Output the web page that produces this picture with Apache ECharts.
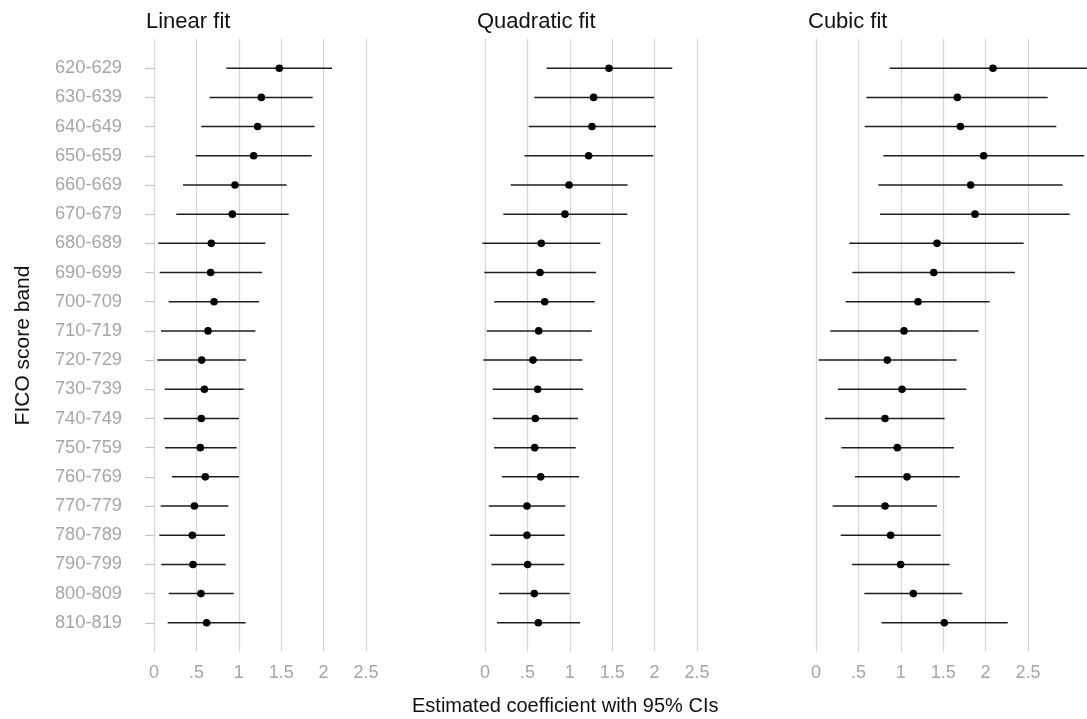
<!DOCTYPE html>
<html>
<head>
<meta charset="utf-8">
<script src="https://cdn.jsdelivr.net/npm/echarts@6/dist/echarts.min.js"></script>
<style>html,body{margin:0;padding:0;background:#fff;}#c{width:1087px;height:719px;}</style>
</head>
<body>
<div id="c"></div>
<script>
const bands = ['620-629','630-639','640-649','650-659','660-669','670-679','680-689','690-699','700-709','710-719','720-729','730-739','740-749','750-759','760-769','770-779','780-789','790-799','800-809','810-819'];
const xTickLabels = ['0','.5','1','1.5','2','2.5'];

const linLo = [0.853,0.656,0.558,0.491,0.342,0.263,0.051,0.067,0.173,0.083,0.039,0.126,0.114,0.130,0.212,0.079,0.063,0.086,0.173,0.161];
const linPt = [1.478,1.266,1.222,1.175,0.955,0.924,0.676,0.668,0.708,0.637,0.562,0.594,0.558,0.546,0.605,0.476,0.452,0.460,0.554,0.621];
const linHi = [2.099,1.871,1.895,1.859,1.564,1.588,1.313,1.274,1.238,1.195,1.085,1.057,1.002,0.975,1.002,0.877,0.837,0.845,0.940,1.081];

const quadLo = [0.727,0.581,0.515,0.464,0.303,0.216,-0.031,-0.008,0.110,0.020,-0.020,0.091,0.091,0.106,0.200,0.044,0.055,0.075,0.165,0.142];
const quadPt = [1.462,1.281,1.262,1.222,0.991,0.943,0.664,0.649,0.704,0.633,0.566,0.621,0.593,0.586,0.657,0.495,0.495,0.503,0.581,0.629];
const quadHi = [2.208,1.993,2.017,1.985,1.682,1.678,1.360,1.309,1.294,1.259,1.148,1.156,1.097,1.069,1.108,0.947,0.940,0.935,0.999,1.120];

const cubLo = [0.869,0.594,0.574,0.794,0.735,0.755,0.393,0.428,0.350,0.169,0.031,0.259,0.106,0.299,0.460,0.196,0.291,0.425,0.570,0.774];
const cubPt = [2.087,1.667,1.703,1.977,1.824,1.875,1.427,1.388,1.203,1.038,0.841,1.014,0.814,0.959,1.073,0.814,0.880,0.998,1.148,1.513];
const cubHi = [3.300,2.732,2.834,3.164,2.909,2.991,2.449,2.347,2.048,1.918,1.659,1.773,1.517,1.627,1.694,1.427,1.470,1.576,1.725,2.261];

const panelTitles = ['Linear fit','Quadratic fit','Cubic fit'];
const panels = [[linLo,linPt,linHi],[quadLo,quadPt,quadHi],[cubLo,cubPt,cubHi]];

const FONT = '"Liberation Sans", Arial, Helvetica, sans-serif';
const yCats = [''].concat(bands, ['']);
const lefts = [154, 485, 816];

const grids = lefts.map(l => ({left: l, top: 39, width: 212, height: 613, containLabel: false}));
const xAxes = lefts.map((l, i) => ({
  type: 'value', gridIndex: i, min: 0, max: 2.5, interval: 0.5,
  axisLine: {show: false}, axisTick: {show: false},
  axisLabel: {color: '#a6a6a6', fontSize: 18, fontFamily: FONT, margin: 12,
    formatter: v => xTickLabels[Math.round(v / 0.5)]},
  splitLine: {show: true, lineStyle: {color: '#d6d6d6', width: 1.3}}
}));
const yAxes = lefts.map((l, i) => ({
  type: 'category', gridIndex: i, data: yCats, inverse: true, boundaryGap: false,
  offset: i === 0 ? 17 : 0,
  axisLine: {show: false},
  axisTick: {show: i === 0, length: 9, lineStyle: {color: '#c4c4c4', width: 1.2},
    interval: (idx, val) => val !== ''},
  axisLabel: {show: i === 0, color: '#a6a6a6', fontSize: 18.3, fontFamily: FONT, margin: 15,
    interval: (idx, val) => val !== ''},
  splitLine: {show: false},
  name: i === 0 ? 'FICO score band' : '',
  nameLocation: 'middle', nameGap: 103, nameRotate: 90,
  nameTextStyle: {color: '#111', fontSize: 21, fontFamily: FONT}
}));

const series = panels.map((p, i) => ({
  type: 'custom', xAxisIndex: i, yAxisIndex: i, clip: false,
  data: bands.map((b, k) => [p[0][k], k + 1, p[1][k], p[2][k]]),
  encode: {x: [0, 2, 3], y: 1},
  renderItem: function (params, api) {
    const y = api.value(1);
    const a = api.coord([api.value(0), y]);
    const m = api.coord([api.value(2), y]);
    const b = api.coord([api.value(3), y]);
    return {type: 'group', children: [
      {type: 'line', shape: {x1: a[0], y1: a[1], x2: b[0], y2: b[1]},
       style: {stroke: '#1e1e1e', lineWidth: 1.5}},
      {type: 'circle', shape: {cx: m[0], cy: m[1], r: 3.8}, style: {fill: '#000'}}
    ]};
  }
}));

const chart = echarts.init(document.getElementById('c'), null, {renderer: 'canvas'});
chart.setOption({
  backgroundColor: '#fff',
  animation: false,
  title: panelTitles.map((t, i) => ({text: t, left: lefts[i] - 13, top: 6,
    textStyle: {color: '#111', fontSize: 22, fontWeight: 'normal', fontFamily: FONT}})),
  graphic: [{type: 'text', left: 412, top: 696,
    style: {text: 'Estimated coefficient with 95% CIs', fill: '#111', fontSize: 20, fontFamily: FONT}}],
  grid: grids, xAxis: xAxes, yAxis: yAxes, series: series
});
</script>
</body>
</html>
